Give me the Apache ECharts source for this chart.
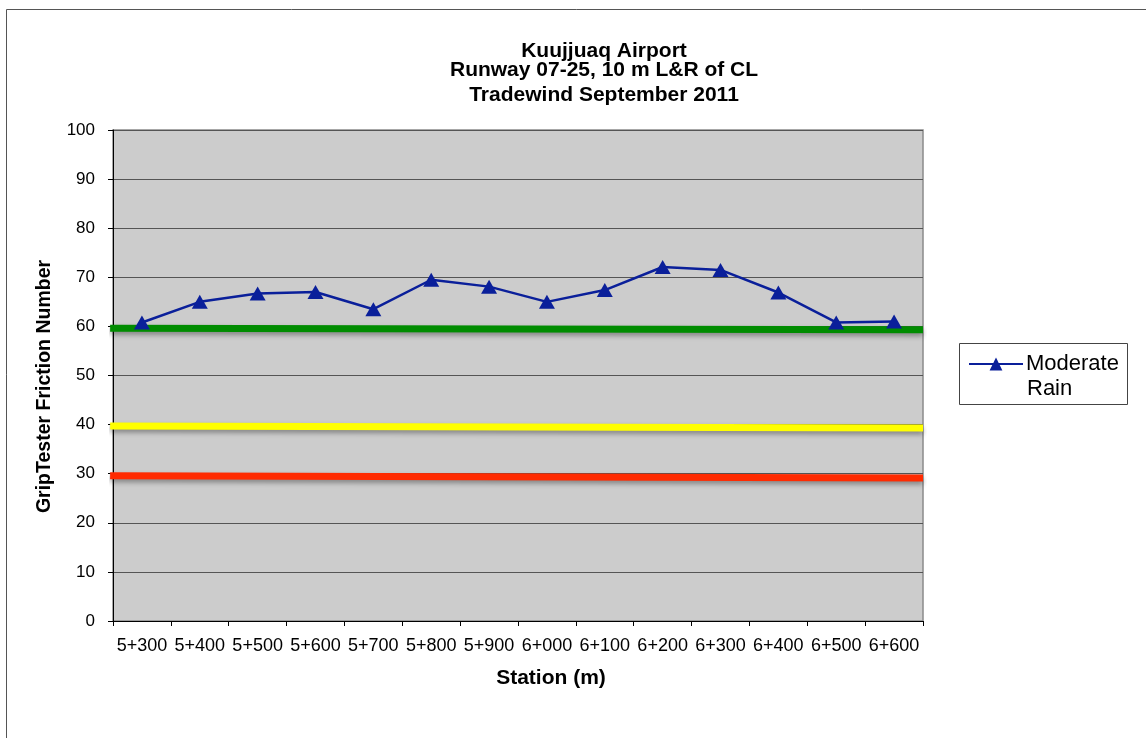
<!DOCTYPE html>
<html>
<head>
<meta charset="utf-8">
<script src="https://cdn.jsdelivr.net/npm/echarts@6/dist/echarts.min.js"></script>
<style>
html,body{margin:0;padding:0;background:#fff;}
#chart{width:1146px;height:738px;}
</style>
</head>
<body>
<div id="chart"></div>
<script>
const titleLines = ["Kuujjuaq Airport", "Runway 07-25, 10 m L&R of CL", "Tradewind September 2011"];
const stations = ["5+300","5+400","5+500","5+600","5+700","5+800","5+900","6+000","6+100","6+200","6+300","6+400","6+500","6+600"];
const seriesName = "Moderate Rain";
const moderateRain = [60.8, 65.0, 66.7, 67.0, 63.5, 69.5, 68.1, 65.0, 67.4, 72.1, 71.5, 66.9, 60.8, 61.0];
// reference threshold lines: [start value, end value]
const greenLine = [59.6, 59.3];
const yellowLine = [39.7, 39.3];
const redLine = [29.6, 29.1];
const yTicks = [0,10,20,30,40,50,60,70,80,90,100];

const chart = echarts.init(document.getElementById('chart'));
const font = "'Liberation Sans', Arial, sans-serif";
const n = stations.length;

function refSeries(vals, color){
  return {
    type: 'line', xAxisIndex: 1, yAxisIndex: 0,
    data: [[-0.05, vals[0]], [n, vals[1]]],
    symbol: 'none', clip: false, silent: true, z: 3,
    lineStyle: {color: color, width: 7, shadowColor: 'rgba(0,0,0,0.35)', shadowBlur: 5, shadowOffsetY: 3, cap: 'butt'}
  };
}

const option = {
  animation: false,
  backgroundColor: '#fff',
  textStyle: {fontFamily: font},
  title: titleLines.map((t, i) => ({
    text: t, left: 604, textAlign: 'center', top: [40.5, 59.5, 84.5][i], padding: 0,
    textStyle: {fontFamily: font, fontSize: 21, fontWeight: 'bold', color: '#000'}
  })),
  legend: {
    left: 968, top: 353, padding: 0, itemWidth: 54, itemHeight: 16, itemGap: 4,
    data: [seriesName],
    formatter: () => 'Moderate',
    textStyle: {fontFamily: font, fontSize: 22, color: '#000', padding: [0,0,0,-2]}
  },
  graphic: [
    {type: 'rect', shape: {x: 6.5, y: 9.5, width: 1160, height: 760}, style: {fill: 'none', stroke: '#555', lineWidth: 1}, z: 100, silent: true},
    {type: 'rect', shape: {x: 959.5, y: 343.5, width: 168, height: 61}, style: {fill: 'none', stroke: '#444', lineWidth: 1}, z: 100, silent: true},
    {type: 'text', left: 1027, top: 378, style: {text: 'Rain', fontFamily: font, fontSize: 22, fill: '#000'}, z: 100}
  ],
  grid: {left: 113, right: 223, top: 130, bottom: 117, show: true, backgroundColor: '#cccccc', borderColor: '#8a8a8a', borderWidth: 1.5},
  xAxis: [{
    type: 'category', data: stations, boundaryGap: true,
    name: 'Station (m)', nameLocation: 'middle', nameGap: 47,
    nameTextStyle: {fontFamily: font, fontSize: 21, fontWeight: 'bold', color: '#000', padding: [0, 0, 0, 66]},
    axisLine: {lineStyle: {color: '#000', width: 1}},
    axisTick: {show: true, alignWithLabel: false, length: 5, lineStyle: {color: '#000'}},
    axisLabel: {fontFamily: font, fontSize: 18, color: '#000', margin: 16, interval: 0},
    splitLine: {show: false}
  }, {
    type: 'value', min: 0, max: n, show: false
  }],
  yAxis: {
    type: 'value', min: 0, max: 100, interval: 10,
    name: 'GripTester Friction Number', nameLocation: 'middle', nameGap: 58, nameRotate: 90,
    nameTextStyle: {fontFamily: font, fontSize: 19.5, fontWeight: 'bold', color: '#000', padding: [0, 22, 0, 0]},
    axisLine: {show: true, lineStyle: {color: '#000', width: 1}},
    axisTick: {show: true, length: 5, lineStyle: {color: '#000'}},
    axisLabel: {fontFamily: font, fontSize: 17, color: '#000', margin: 18,
      formatter: v => yTicks.includes(v) ? String(v) : ''},
    splitLine: {show: true, lineStyle: {color: '#555', width: 1}}
  },
  series: [
    refSeries(greenLine, '#008c00'),
    refSeries(yellowLine, '#ffff00'),
    refSeries(redLine, '#ff2a00'),
    {
      name: seriesName, type: 'line', data: moderateRain, xAxisIndex: 0, yAxisIndex: 0,
      symbol: 'triangle', symbolSize: [16, 14], z: 5,
      lineStyle: {color: '#0a1f9a', width: 2.5},
      itemStyle: {color: '#0a1f9a'}
    }
  ]
};
chart.setOption(option);
</script>
</body>
</html>
